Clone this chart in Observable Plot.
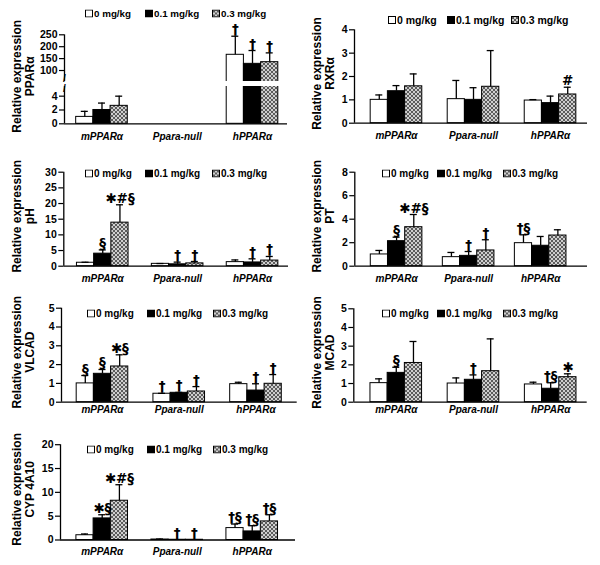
<!DOCTYPE html>
<html><head><meta charset="utf-8">
<script src="https://cdn.jsdelivr.net/npm/d3@7"></script>
<script src="https://cdn.jsdelivr.net/npm/@observablehq/plot@0.6"></script>
<style>
body{margin:0;background:#fff;}
#fig{position:relative;width:600px;height:565px;font-family:'Liberation Sans',Arial,sans-serif;overflow:hidden;}
.panel{position:absolute;}
.item{position:absolute;display:flex;align-items:center;transform:translateY(-50%);font-weight:bold;white-space:nowrap;color:#000;}
.item svg{margin-right:1px;display:block;}
</style></head><body>
<svg width="0" height="0" style="position:absolute">
  <defs>
    <pattern id="hatch" width="4" height="4" patternUnits="userSpaceOnUse">
      <rect width="4" height="4" fill="#cfcfcf"/>
      <path d="M0,0 L4,4 M4,0 L0,4" stroke="#5c5c5c" stroke-width="1"/>
    </pattern>
  </defs>
</svg>
<div id="fig"></div>
<script>
// ---------- data ----------
const groups = ["mPPARα", "Ppara-null", "hPPARα"];
const doses = ["0 mg/kg", "0.1 mg/kg", "0.3 mg/kg"];

const pparaMean = [[1.0, 2.0, 2.6], [0, 0, 0], [166, 128, 135]];
const pparaErr  = [[0.8, 1.0, 1.4], [0, 0, 0], [78, 56, 39]];
const pparaNote = [["", "", ""], ["", "", ""], ["†", "†", "†"]];

const rxraMean = [[1.0, 1.37, 1.58], [1.03, 1.0, 1.56], [0.97, 0.86, 1.23]];
const rxraErr  = [[0.21, 0.24, 0.53], [0.8, 0.52, 1.55], [0.04, 0.3, 0.31]];
const rxraNote = [["", "", ""], ["", "", ""], ["", "", "#"]];

const phMean = [[1.1, 4.0, 13.9], [0.75, 0.6, 0.9], [1.3, 1.2, 1.8]];
const phErr  = [[0.15, 1.2, 5.7], [0.1, 0.7, 0.6], [0.7, 1.15, 1.3]];
const phNote = [["", "§", "✱#§"], ["", "†", "†"], ["", "†", "†"]];

const ptMean = [[1.0, 2.13, 3.32], [0.77, 0.88, 1.34], [1.96, 1.74, 2.61]];
const ptErr  = [[0.34, 0.34, 1.08], [0.4, 0.37, 0.91], [0.71, 0.79, 0.49]];
const ptNote = [["", "§", "✱#§"], ["", "†", "†"], ["†§", "", ""]];

const vlcadMean = [[1.0, 1.51, 1.9], [0.45, 0.5, 0.57], [0.96, 0.62, 0.98]];
const vlcadErr  = [[0.42, 0.23, 0.62], [0.02, 0.02, 0.26], [0.1, 0.36, 0.49]];
const vlcadNote = [["§", "§", "✱§"], ["†", "†", "†"], ["", "†", "†"]];

const mcadMean = [[1.02, 1.57, 2.1], [1.0, 1.2, 1.66], [0.95, 0.72, 1.34]];
const mcadErr  = [[0.23, 0.3, 1.15], [0.3, 0.26, 1.73], [0.12, 0.32, 0.18]];
const mcadNote = [["", "§", ""], ["", "†", ""], ["", "†§", "✱"]];

const cypMean = [[1.0, 4.53, 8.24], [0.1, 0.05, 0.05], [2.5, 1.8, 3.9]];
const cypErr  = [[0.26, 0.77, 3.36], [0.1, 0, 0], [0.85, 1.2, 1.4]];
const cypNote = [["", "✱§", "✱#§"], ["", "†", "†"], ["†§", "†§", "†§"]];

// ---------- layout ----------
const fills = ["white", "black", "url(#hatch)"];
const panels = [
  {label: "Relative expression\nPPARα", mean: pparaMean, err: pparaErr, note: pparaNote,
   left: 0, top: 0, h: 145, xa: 64, xe: 287, xlo: -0.498, xhi: 2.465, y0: 123.3, yTop: 34.3, ymax: 250,
   ticks: [0, 2, 4, 100, 150, 200, 250], brk: {lo: 5.4, hi: 53.8, gapPx: 5, loPx: 37.3}, catPad: 9,
   leg: {y: 13, xs: [85, 145, 212], fs: 9.8}},
  {label: "Relative expression\nRXRα", mean: rxraMean, err: rxraErr, note: rxraNote,
   left: 300, top: 0, h: 145, xa: 54, xe: 287, xlo: -0.545, xhi: 2.48, y0: 122.7, yTop: 29.3, ymax: 4,
   ticks: [0, 1, 2, 3, 4], catPad: 9, leg: {y: 20, xs: [388, 447, 511], fs: 10.5}},
  {label: "Relative expression\npH", mean: phMean, err: phErr, note: phNote,
   left: 0, top: 145, h: 140, xa: 63.3, xe: 288, xlo: -0.52, xhi: 2.48, y0: 120.7, yTop: 26.7, ymax: 30,
   ticks: [0, 5, 10, 15, 20, 25, 30], catPad: 9, leg: {y: 173, xs: [85, 145, 212], fs: 10}},
  {label: "Relative expression\nPT", mean: ptMean, err: ptErr, note: ptNote,
   left: 300, top: 145, h: 140, xa: 54.3, xe: 287, xlo: -0.58, xhi: 2.65, y0: 120.7, yTop: 26.7, ymax: 8,
   ticks: [0, 2, 4, 6, 8], catPad: 9, leg: {y: 173, xs: [382, 437, 503], fs: 10}},
  {label: "Relative expression\nVLCAD", mean: vlcadMean, err: vlcadErr, note: vlcadNote,
   left: 0, top: 285, h: 140, xa: 61, xe: 296.7, xlo: -0.534, xhi: 2.537, y0: 116.7, yTop: 22.7, ymax: 5,
   ticks: [0, 1, 2, 3, 4, 5], catPad: 4, leg: {y: 313, xs: [87, 147, 213], fs: 10}},
  {label: "Relative expression\nMCAD", mean: mcadMean, err: mcadErr, note: mcadNote,
   left: 300, top: 285, h: 140, xa: 53.3, xe: 286.7, xlo: -0.55, xhi: 2.473, y0: 116.7, yTop: 23.3, ymax: 5,
   ticks: [0, 1, 2, 3, 4, 5], catPad: 4, leg: {y: 313, xs: [382, 437, 503], fs: 10}},
  {label: "Relative expression\nCYP 4A10", mean: cypMean, err: cypErr, note: cypNote,
   left: 0, top: 425, h: 140, xa: 60, xe: 295, xlo: -0.556, xhi: 2.577, y0: 114.5, yTop: 19.2, ymax: 20,
   ticks: [0, 5, 10, 15, 20], catPad: 8, leg: {y: 449, xs: [87, 147, 213], fs: 10}}
];

const fig = document.getElementById("fig");

function drawPanel(p) {
  const s = (p.xe - p.xa) / (p.xhi - p.xlo);
  const bw = 17.2 / s;
  const cw = 3.5 / s;
  // value -> y position (broken axis for the panel with brk)
  let f = v => v, fmax = p.ymax;
  if (p.brk) {
    const b = p.brk, total = p.y0 - p.yTop;
    const L = b.loPx / b.lo;
    const U = (total - b.loPx - b.gapPx) / (p.ymax - b.hi);
    f = v => v <= b.lo ? v * L : b.loPx + b.gapPx + (v - b.hi) * U;
    fmax = f(p.ymax);
  }
  const tickPos = p.ticks.map(f);
  const tickLabel = new Map(tickPos.map((t, i) => [t, String(p.ticks[i])]));
  const rows = [];
  groups.forEach((g, gi) => doses.forEach((d, di) => {
    const m = p.mean[gi][di], e = p.err[gi][di];
    rows.push({group: g, dose: d, x: gi + (di - 1) * bw, mean: m, err: e, top: m + e, note: p.note[gi][di]});
  }));
  const bars = rows.filter(r => r.mean > 0);
  const errs = rows.filter(r => r.err > 0);
  const notes = rows.filter(r => r.note);
  const marks = [
    Plot.rect(bars, {x1: d => d.x - bw / 2, x2: d => d.x + bw / 2, y1: () => 0, y2: d => f(d.mean), fill: "dose", stroke: "black", strokeWidth: 1}),
    Plot.ruleX(errs, {x: "x", y1: d => f(d.mean), y2: d => f(d.top), stroke: "black", strokeWidth: 1.3}),
    Plot.ruleY(errs, {y: d => f(d.top), x1: d => d.x - cw, x2: d => d.x + cw, stroke: "black", strokeWidth: 1.3}),
    Plot.ruleX([p.xlo], {y1: () => 0, y2: () => fmax, stroke: "black", strokeWidth: 1.3}),
    Plot.ruleY([0], {x1: () => p.xlo, x2: () => p.xhi, stroke: "black", strokeWidth: 1.3})
  ];
  if (p.brk) {
    const b = p.brk;
    marks.push(Plot.rect([b], {x1: () => p.xlo - 5 / s, x2: () => p.xhi, y1: () => b.loPx, y2: () => b.loPx + b.gapPx, fill: "white"}));
    marks.push(Plot.text([b.loPx - 2.5, b.loPx + b.gapPx + 2.5], {x: () => p.xlo, y: d => d, text: () => "/", fontSize: 10, fontWeight: "bold"}));
  }
  marks.push(
    Plot.axisY({ticks: tickPos, tickFormat: d => tickLabel.get(d), tickSize: 5, tickPadding: 2, fontSize: 10.5, fontWeight: "bold", label: null, strokeWidth: 1.2}),
    Plot.axisX({ticks: [0, 1, 2], tickFormat: i => groups[i], tickSize: 0, tickPadding: p.catPad, fontSize: 10, fontWeight: "bold", fontStyle: "italic", label: null}),
    Plot.text(notes, {x: "x", y: d => f(d.top), text: "note", dy: -2, lineAnchor: "bottom", fontSize: 13.5, fontWeight: "bold", fontFamily: "'DejaVu Sans', sans-serif"}),
    Plot.text([p.label], {text: d => d, frameAnchor: "left", textAnchor: "middle", lineAnchor: "middle", rotate: -90, dx: 22.5 - p.xa, dy: -3, fontSize: 12, fontWeight: "bold", lineHeight: 1.1})
  );
  const svg = Plot.plot({
    width: 300, height: p.h,
    marginLeft: p.xa, marginRight: 300 - p.xe, marginTop: p.yTop, marginBottom: p.h - p.y0,
    x: {domain: [p.xlo, p.xhi], range: [p.xa, p.xe]},
    y: {domain: [0, fmax], range: [p.y0, p.yTop]},
    color: {domain: doses, range: fills},
    style: {background: "transparent", overflow: "visible", fontFamily: "'Liberation Sans', Arial, sans-serif", color: "black"},
    marks
  });
  svg.classList.add("panel");
  svg.style.left = p.left + "px";
  svg.style.top = p.top + "px";
  fig.appendChild(svg);

  p.leg.xs.forEach((x, i) => {
    const item = document.createElement("div");
    item.className = "item";
    item.style.left = x + "px";
    item.style.top = p.leg.y + "px";
    item.style.fontSize = p.leg.fs + "px";
    item.innerHTML = `<svg width="8" height="8"><rect x="0.5" y="0.5" width="7" height="7" fill="${fills[i]}" stroke="black"/></svg><span>${doses[i]}</span>`;
    fig.appendChild(item);
  });
}

panels.forEach(drawPanel);
</script>
</body></html>
